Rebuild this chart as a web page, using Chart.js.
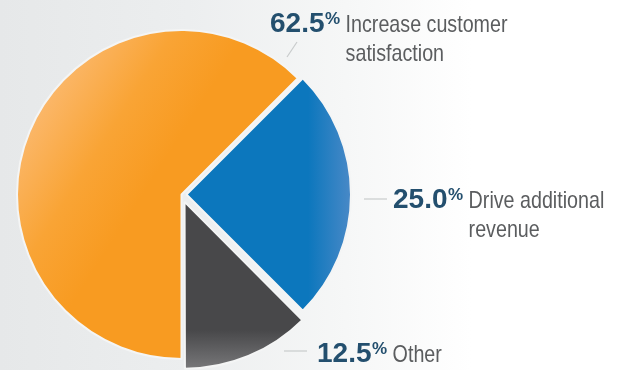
<!DOCTYPE html>
<html>
<head>
<meta charset="utf-8">
<script src="https://cdn.jsdelivr.net/npm/chart.js@4.4.1/dist/chart.umd.min.js"></script>
<style>
  html, body { margin: 0; padding: 0; }
  body {
    width: 629px; height: 370px; overflow: hidden;
    background: linear-gradient(90deg, #e6e8e9 0%, #eceeef 30%, #f6f7f7 55%, #ffffff 75%);
  }
  #wrap { position: relative; width: 629px; height: 370px; }
</style>
</head>
<body>
<div id="wrap"><canvas id="pie" width="629" height="370"></canvas></div>
<script>
// Goals and their share of responses (percent)
const CATEGORIES = ['Increase customer satisfaction', 'Drive additional revenue', 'Other'];
const SHARES = [62.5, 25.0, 12.5];
const LABEL_LINES = [['Increase customer', 'satisfaction'], ['Drive additional', 'revenue'], ['Other']];

// Slice styling (Chart.js moves an arc by offset / 4 pixels)
const BASE_COLORS = ['#f89b21', '#0c77bd', '#48484a'];
const SLICE_OFFSETS = [0, 20, 32];
const GAP_COLOR = '#f4f5f5';

// Label placement, relative to the pie centre
const LABEL_LAYOUT = [
  { leader: [105.5, -137.5, 115.5, -152.5], num: [88.5, -162.5] },
  { leader: [182.5, 4.5, 205.5, 4.5], num: [211.5, 13.5] },
  { leader: [102.5, 156.5, 125.5, 156.5], num: [135.5, 167.5] }
];

function fontAvailable(name) {
  const c = document.createElement('canvas').getContext('2d');
  const s = 'Increase customer 62.5%';
  c.font = '24px monospace';
  const a = c.measureText(s).width;
  c.font = '24px "' + name + '", monospace';
  return c.measureText(s).width !== a;
}
const HAS_NARROW = fontAvailable('Liberation Sans Narrow');
const TEXT_FONT = HAS_NARROW ? '"Liberation Sans Narrow"' : '"Liberation Sans", Arial, sans-serif';
const TEXT_SCALE = HAS_NARROW ? 1 : 0.82;

function sliceFill(context) {
  const i = context.dataIndex;
  const chart = context.chart;
  const area = chart.chartArea;
  if (!area) return BASE_COLORS[i];
  const ctx = chart.ctx;
  const cx = (area.left + area.right) / 2;
  const cy = (area.top + area.bottom) / 2;
  const r = context.dataset.radius;
  let g;
  if (i === 0) {
    g = ctx.createLinearGradient(cx - r, cy - 0.35 * r, cx - 0.3 * r, cy + 0.1 * r);
    g.addColorStop(0, '#fbb86c');
    g.addColorStop(0.55, '#f9a435');
    g.addColorStop(1, '#f89b21');
  } else if (i === 1) {
    g = ctx.createLinearGradient(cx + 0.74 * r, 0, cx + r + SLICE_OFFSETS[1] / 4, 0);
    g.addColorStop(0, '#0c77bd');
    g.addColorStop(1, '#508bc8');
  } else {
    g = ctx.createLinearGradient(0, cy + 0.78 * r, 0, cy + r + SLICE_OFFSETS[2] / 4);
    g.addColorStop(0, '#48484a');
    g.addColorStop(1, '#7e7e80');
  }
  return g;
}

function drawScaled(ctx, text, x, y, scale) {
  ctx.save();
  ctx.translate(x, y);
  ctx.scale(scale, 1);
  ctx.fillText(text, 0, 0);
  ctx.restore();
  return ctx.measureText(text).width * scale;
}

const sliceLabels = {
  id: 'sliceLabels',
  afterDatasetsDraw(chart) {
    const ctx = chart.ctx;
    const arcs = chart.getDatasetMeta(0).data;
    if (!arcs.length) return;
    const cx = arcs[0].x, cy = arcs[0].y;
    ctx.save();
    ctx.textBaseline = 'alphabetic';
    ctx.textAlign = 'left';
    SHARES.forEach((v, i) => {
      const L = LABEL_LAYOUT[i];
      // leader line
      ctx.strokeStyle = '#c9cbcc';
      ctx.lineWidth = 1.2;
      ctx.beginPath();
      ctx.moveTo(cx + L.leader[0], cy + L.leader[1]);
      ctx.lineTo(cx + L.leader[2], cy + L.leader[3]);
      ctx.stroke();
      // value
      const nx = cx + L.num[0], ny = cy + L.num[1];
      ctx.fillStyle = '#234f6e';
      ctx.font = 'bold 28px "Liberation Sans", Arial, sans-serif';
      const numText = v.toFixed(1);
      const w = ctx.measureText(numText).width;
      ctx.fillText(numText, nx, ny);
      ctx.font = 'bold 17px "Liberation Sans", Arial, sans-serif';
      const pw = ctx.measureText('%').width;
      ctx.fillText('%', nx + w + 0.5, ny - 8);
      // description
      ctx.fillStyle = '#5b5d5f';
      ctx.font = '24px ' + TEXT_FONT;
      const tx = nx + w + pw + 6;
      LABEL_LINES[i].forEach((line, k) => {
        drawScaled(ctx, line, tx, ny + k * 28.5, TEXT_SCALE);
      });
    });
    ctx.restore();
  }
};

new Chart(document.getElementById('pie'), {
  type: 'pie',
  data: {
    labels: CATEGORIES,
    datasets: [{
      data: SHARES,
      backgroundColor: sliceFill,
      borderColor: GAP_COLOR,
      borderWidth: 2,
      offset: SLICE_OFFSETS,
      hoverOffset: 0,
      radius: 164.5
    }]
  },
  options: {
    responsive: false,
    devicePixelRatio: 1,
    animation: false,
    events: [],
    rotation: 180,
    layout: { padding: { left: 0, right: 266, top: 19, bottom: 0 } },
    plugins: {
      legend: { display: false },
      tooltip: { enabled: false }
    }
  },
  plugins: [sliceLabels]
});
</script>
</body>
</html>
